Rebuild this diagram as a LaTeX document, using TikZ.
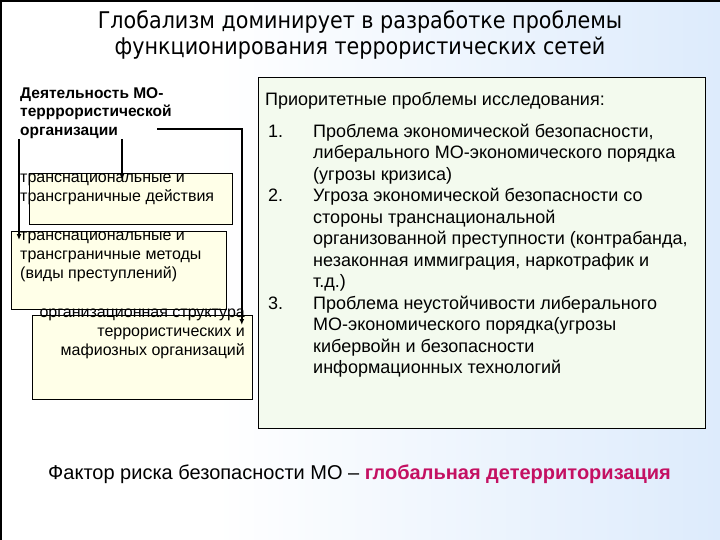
\documentclass[tikz,border=0pt]{standalone}
\usepackage{fontspec}
\setmainfont{Liberation Sans}
\newfontfamily\titlefont{DejaVu Sans}[FakeStretch=0.9]
\usetikzlibrary{arrows.meta, positioning}

\definecolor{bgblue}{RGB}{221,235,252}
\definecolor{boxcream}{RGB}{255,255,232}
\definecolor{boxgreen}{RGB}{243,250,238}
\definecolor{accent}{RGB}{196,16,98}
\pgfdeclarehorizontalshading{slidebg}{100bp}{color(0bp)=(white); color(40bp)=(white); color(75bp)=(bgblue); color(100bp)=(bgblue)}

\newcommand{\numline}[1]{\makebox[45pt][l]{#1}}
\newcommand{\contline}{\hspace*{45pt}}

\begin{document}
\begin{tikzpicture}[
  x=1pt, y=-1pt,
  framebox/.style={
    draw,
    fill=boxcream,
    line width=0.8pt,
    anchor=north west,
    inner sep=0pt
    },
  boxtext/.style={inner sep=0pt, align=left, font=\fontsize{16}{19}\selectfont},
  listtext/.style={inner sep=0pt, align=left, anchor=north west, font=\fontsize{18}{21.5}\selectfont},
  link/.style={line width=1.6pt, -{Latex[length=6pt,width=5pt]}}
]

  % Background
  \useasboundingbox (0,0) rectangle (720,540);
  \shade[shading=slidebg] (0,0) rectangle (720,540);
  \draw[line width=2pt] (1,540) -- (1,1) -- (720,1);

  \node[align=center, font=\titlefont\fontsize{23}{26}\selectfont, text=black] (title) at (360,35)
    {Глобализм доминирует в разработке проблемы\\функционирования террористических сетей};

  % Left column
  \node[anchor=north west, inner sep=0pt, align=left, font=\bfseries\fontsize{15.5}{18.5}\selectfont] (hdr) at (20,85)
    {\strut Деятельность МО-\\терррористической\\организации};

  \node[framebox, minimum width=203pt, minimum height=51pt] (box1) at (29,173) {};
  \node[framebox, minimum width=215pt, minimum height=78pt] (box2) at (11,231) {};
  \node[framebox, minimum width=220pt, minimum height=84pt] (box3) at (32,315) {};

  \coordinate (s1) at (19,139);
  \coordinate (s2) at (122,139);
  \coordinate (s3) at (157,129);

  % Draw connectors
  \draw[link] (s1) -- ([yshift=-9pt]box2.north -| s1);
  \draw[link] (s2) -- ([yshift=-7pt]box1.north -| s2);
  \draw[link] (s3) -| ([xshift=-11pt,yshift=-10pt]box3.north east);

  \node[boxtext, anchor=north west] (t1) at (20,168.7)
    {\strut транснациональные и\\трансграничные действия};
  \node[boxtext, anchor=north west] (t2) at (20,226.7)
    {\strut транснациональные и\\трансграничные методы\\(виды преступлений)};
  \node[boxtext, anchor=north east, align=right] (t3) at (245,303.7)
    {\strut организационная структура\\террористических и\\мафиозных организаций};

  % Right column
  \node[draw, fill=boxgreen, line width=1pt, anchor=north west, inner sep=0pt,
    minimum width=447pt, minimum height=351pt] (prio) at (258,77) {};
  \node[listtext] (priohead) at (265,90) {\strut Приоритетные проблемы исследования:};
  \node[listtext] (priolist) at (268,122)
    {\strut\numline{1.}Проблема экономической безопасности,\\
     \contline либерального МО-экономического порядка\\
     \contline (угрозы кризиса)\\
     \numline{2.}Угроза экономической безопасности со\\
     \contline стороны транснациональной\\
     \contline организованной преступности (контрабанда,\\
     \contline незаконная иммиграция, наркотрафик и\\
     \contline т.д.)\\
     \numline{3.}Проблема неустойчивости либерального\\
     \contline МО-экономического порядка(угрозы\\
     \contline кибервойн и безопасности\\
     \contline информационных технологий};

  % Bottom line
  \node[anchor=base west, inner sep=0pt, font=\fontsize{20}{24}\selectfont] (risk) at (48,479)
    {Фактор риска безопасности МО – \textcolor{accent}{\bfseries глобальная детерриторизация}};

\end{tikzpicture}
\end{document}
